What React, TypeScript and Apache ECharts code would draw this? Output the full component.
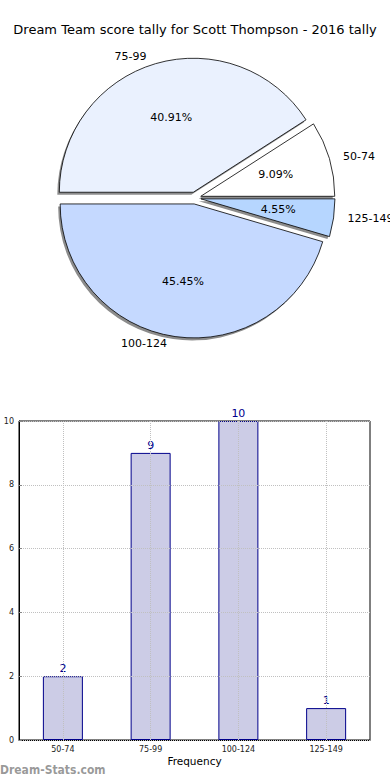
import React, { useEffect, useRef } from "react";
import * as echarts from "echarts";

const titleText = "Dream Team score tally for Scott Thompson - 2016 tally";
const pieNames = ["75-99", "50-74", "125-149", "100-124"];
const pieValues = [9, 2, 1, 10];
const pieColors = ["#eaf1fe", "#ffffff", "#b6d6ff", "#c5d9ff"];

const barCategories = ["50-74", "75-99", "100-124", "125-149"];
const barValues = [2, 9, 10, 1];
const yTicks = [0, 2, 4, 6, 8, 10];

const FONT = "DejaVu Sans";

export default function App() {
  const ref = useRef<HTMLDivElement>(null);
  useEffect(() => {
    if (!ref.current) return;
    const chart = echarts.init(ref.current, undefined, { renderer: "svg" });
    const pieCenter = [195, 198];
    const R = 134;
    const OFF = 6;
    const pieData = pieNames.map((n, i) => ({
      name: n,
      value: pieValues[i],
      selected: true,
      itemStyle: { color: pieColors[i] },
    }));
    const plainData = pieNames.map((n, i) => ({ name: n, value: pieValues[i], selected: true }));
    const basePie = {
      type: "pie",
      center: pieCenter,
      radius: R,
      startAngle: 180,
      clockwise: true,
      selectedMode: "multiple",
      selectedOffset: OFF,
      avoidLabelOverlap: false,
      emphasis: { disabled: true },
    };
    chart.setOption({
      animation: false,
      backgroundColor: "#ffffff",
      textStyle: { fontFamily: FONT },
      title: {
        text: titleText,
        left: "center",
        top: 18,
        textStyle: { fontFamily: FONT, fontSize: 13, fontWeight: "normal", color: "#000" },
      },
      graphic: [
        {
          type: "text",
          left: 0,
          top: 764,
          style: {
            text: "Dream-Stats.com",
            fontFamily: "DejaVu Sans Condensed",
            fontSize: 12,
            fontWeight: "bold",
            fill: "rgba(120,120,120,0.75)",
          },
        },
      ],
      grid: {
        left: 19,
        right: 20,
        top: 421,
        bottom: 40,
        containLabel: false,
        outerBoundsMode: "none",
        show: true,
        borderColor: "#000",
        borderWidth: 1,
        backgroundColor: "transparent",
      },
      xAxis: {
        type: "category",
        data: barCategories,
        name: "Frequency",
        nameLocation: "middle",
        nameGap: 15,
        nameTextStyle: { fontFamily: FONT, fontSize: 10.5, color: "#000" },
        axisLine: { lineStyle: { color: "#000" } },
        axisTick: { show: false },
        axisLabel: { fontFamily: FONT, fontSize: 8, color: "#222", margin: 5 },
        splitLine: { show: false },
      },
      yAxis: {
        type: "value",
        min: 0,
        max: 10,
        interval: 2,
        z: 5,
        name: "Occurrences",
        nameLocation: "middle",
        nameGap: 17,
        nameTextStyle: { fontFamily: FONT, fontSize: 9, color: "#000" },
        axisLine: { show: true, lineStyle: { color: "#000" } },
        axisTick: { show: true, inside: true, length: 3, lineStyle: { color: "#888" } },
        axisLabel: {
          fontFamily: FONT,
          fontSize: 8,
          color: "#222",
          margin: 5,
          formatter: (v: number) => (yTicks.includes(v) ? String(v) : ""),
        },
        splitLine: { show: true, lineStyle: { color: "#c0c0c0", type: "dotted", width: 1 } },
      },
      series: [
        {
          ...basePie,
          name: "shadow",
          silent: true,
          center: [pieCenter[0] - 2, pieCenter[1] + 2.5],
          z: 1,
          label: { show: false },
          labelLine: { show: false },
          itemStyle: { color: "#8c8c8c", borderWidth: 0 },
          data: plainData,
        },
        {
          ...basePie,
          name: "main",
          z: 2,
          itemStyle: { borderColor: "#000", borderWidth: 0.8 },
          label: { show: false },
          labelLine: { show: false },
          data: pieData,
        },
        {
          ...basePie,
          name: "percent",
          silent: true,
          radius: [R * 0.14, R * 0.98],
          z: 3,
          itemStyle: { color: "transparent", borderWidth: 0 },
          label: {
            show: true,
            position: "inside",
            formatter: "{d}%",
            fontFamily: FONT,
            fontSize: 11,
            color: "#000",
          },
          labelLine: { show: false },
          data: plainData,
        },
        {
          ...basePie,
          name: "labels",
          silent: true,
          z: 3,
          itemStyle: { color: "transparent", borderWidth: 0 },
          label: {
            show: true,
            position: "outside",
            formatter: "{b}",
            fontFamily: FONT,
            fontSize: 11,
            color: "#000",
          },
          labelLine: { show: false, length: 7, length2: 2 },
          data: plainData,
        },
        {
          type: "bar",
          data: barValues,
          barWidth: 40,
          z: 2,
          itemStyle: { color: "#ccccE6", borderColor: "#00008b", borderWidth: 1 },
          label: {
            show: true,
            position: "top",
            distance: 2,
            fontFamily: FONT,
            fontSize: 11,
            color: "#00008b",
          },
          markLine: {
            silent: true,
            symbol: "none",
            label: { show: false },
            lineStyle: { color: "#c0c0c0", type: "dotted", width: 1 },
            data: barCategories.map((c) => ({ xAxis: c })),
          },
        },
      ],
    });
    return () => chart.dispose();
  }, []);
  return (
    <div
      ref={ref}
      style={{ position: "fixed", left: 0, top: 0, width: 390, height: 780 }}
    />
  );
}
